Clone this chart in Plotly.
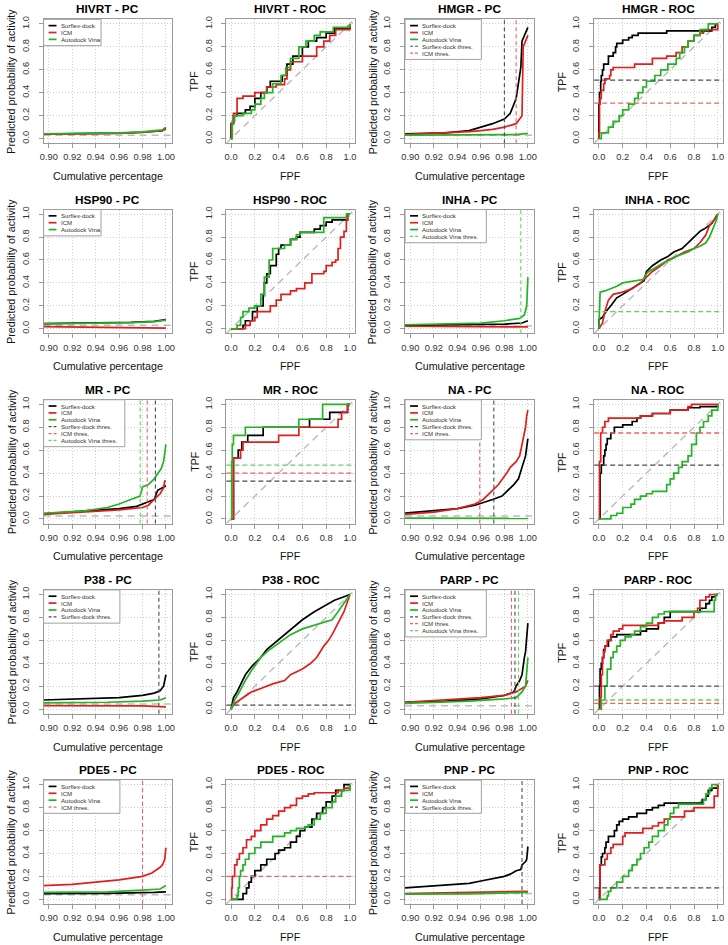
import plotly.graph_objects as go

# ---------------------------------------------------------------- data
TARGETS = ["HIVRT", "HMGR", "HSP90", "INHA", "MR", "NA", "P38", "PARP", "PDE5", "PNP"]
PROGRAMS = ["Surflex-dock", "ICM", "Autodock Vina"]

PC_XTICKS = [0.90, 0.92, 0.94, 0.96, 0.98, 1.00]
PC_XTICK_LABELS = ["0.90", "0.92", "0.94", "0.96", "0.98", "1.00"]
UNIT_TICKS = [0.0, 0.2, 0.4, 0.6, 0.8, 1.0]
UNIT_TICK_LABELS = ["0.0", "0.2", "0.4", "0.6", "0.8", "1.0"]

# ---- PC curves: (cumulative percentage, predicted probability of activity)
HIVRT_PC_SURFLEX = [(0.895, 0.040), (0.93, 0.042), (0.96, 0.047), (0.98, 0.055), (0.99, 0.062), (0.997, 0.070), (1.0, 0.090)]
HIVRT_PC_ICM = [(0.895, 0.038), (0.93, 0.041), (0.96, 0.046), (0.98, 0.053), (0.99, 0.060), (0.997, 0.070), (1.0, 0.085)]
HIVRT_PC_VINA = [(0.895, 0.042), (0.93, 0.045), (0.96, 0.050), (0.98, 0.058), (0.99, 0.065), (0.997, 0.075), (1.0, 0.100)]

HMGR_PC_SURFLEX = [(0.895, 0.04), (0.93, 0.05), (0.95, 0.07), (0.96, 0.10), (0.97, 0.13), (0.98, 0.17), (0.985, 0.22),
                   (0.99, 0.35), (0.992, 0.50), (0.994, 0.62), (0.995, 0.85), (0.998, 0.93), (1.0, 0.97)]
HMGR_PC_ICM = [(0.895, 0.035), (0.93, 0.05), (0.95, 0.06), (0.96, 0.07), (0.97, 0.08), (0.98, 0.10), (0.988, 0.12),
               (0.99, 0.13), (0.993, 0.17), (0.995, 0.20), (0.996, 0.80), (0.998, 0.85), (1.0, 0.90)]
HMGR_PC_VINA = [(0.895, 0.030), (0.95, 0.030), (0.99, 0.035), (1.0, 0.045)]

HSP90_PC_SURFLEX = [(0.895, 0.045), (0.94, 0.050), (0.97, 0.055), (0.99, 0.065), (1.0, 0.080)]
HSP90_PC_ICM = [(0.895, 0.018), (0.95, 0.014), (0.99, 0.010), (1.0, 0.005)]
HSP90_PC_VINA = [(0.895, 0.042), (0.94, 0.047), (0.97, 0.053), (0.99, 0.062), (1.0, 0.075)]

INHA_PC_SURFLEX = [(0.895, 0.030), (0.95, 0.035), (0.98, 0.040), (0.995, 0.050), (1.0, 0.070)]
INHA_PC_ICM = [(0.895, 0.022), (0.95, 0.020), (0.99, 0.018), (1.0, 0.016)]
INHA_PC_VINA = [(0.895, 0.035), (0.96, 0.05), (0.98, 0.07), (0.993, 0.09), (0.997, 0.12), (0.999, 0.20), (1.0, 0.45)]

MR_PC_SURFLEX = [(0.895, 0.045), (0.93, 0.07), (0.96, 0.09), (0.975, 0.11), (0.98, 0.13), (0.99, 0.17),
                 (0.993, 0.25), (0.996, 0.27), (1.0, 0.29)]
MR_PC_ICM = [(0.895, 0.04), (0.93, 0.06), (0.96, 0.08), (0.98, 0.10), (0.985, 0.12), (0.99, 0.17),
             (0.995, 0.22), (0.998, 0.27), (0.999, 0.33), (1.0, 0.33)]
MR_PC_VINA = [(0.895, 0.05), (0.93, 0.07), (0.95, 0.10), (0.96, 0.13), (0.97, 0.17), (0.978, 0.20), (0.98, 0.28),
              (0.985, 0.30), (0.99, 0.35), (0.993, 0.40), (0.996, 0.44), (0.998, 0.50), (1.0, 0.65)]

NA_PC_SURFLEX = [(0.895, 0.05), (0.92, 0.07), (0.94, 0.09), (0.955, 0.12), (0.965, 0.15), (0.97, 0.17), (0.978, 0.20),
                 (0.983, 0.25), (0.988, 0.30), (0.992, 0.35), (0.995, 0.45), (0.998, 0.55), (1.0, 0.70)]
NA_PC_ICM = [(0.895, 0.04), (0.92, 0.06), (0.94, 0.09), (0.955, 0.13), (0.962, 0.17), (0.97, 0.25), (0.975, 0.30),
             (0.982, 0.40), (0.985, 0.45), (0.99, 0.50), (0.993, 0.55), (0.996, 0.70), (0.998, 0.80), (0.999, 0.90), (1.0, 0.95)]
NA_PC_VINA = [(0.895, 0.008), (1.0, 0.005)]

P38_PC_SURFLEX = [(0.895, 0.08), (0.93, 0.09), (0.96, 0.10), (0.98, 0.12), (0.99, 0.14), (0.995, 0.16), (0.998, 0.20), (1.0, 0.30)]
P38_PC_ICM = [(0.895, 0.030), (0.98, 0.028), (1.0, 0.020)]
P38_PC_VINA = [(0.895, 0.055), (0.95, 0.060), (0.98, 0.070), (0.995, 0.080), (1.0, 0.100)]

PARP_PC_SURFLEX = [(0.895, 0.06), (0.93, 0.07), (0.96, 0.09), (0.98, 0.12), (0.988, 0.15), (0.99, 0.20), (0.993, 0.25),
                   (0.995, 0.30), (0.997, 0.45), (0.998, 0.50), (1.0, 0.75)]
PARP_PC_ICM = [(0.895, 0.06), (0.93, 0.08), (0.96, 0.10), (0.98, 0.12), (0.99, 0.15), (0.998, 0.20), (1.0, 0.25)]
PARP_PC_VINA = [(0.895, 0.05), (0.95, 0.07), (0.98, 0.09), (0.99, 0.10), (0.995, 0.15), (0.998, 0.20), (1.0, 0.45)]

PDE5_PC_SURFLEX = [(0.895, 0.050), (0.95, 0.052), (0.99, 0.060), (1.0, 0.065)]
PDE5_PC_ICM = [(0.895, 0.12), (0.92, 0.13), (0.94, 0.15), (0.96, 0.17), (0.98, 0.20), (0.988, 0.23), (0.995, 0.28),
               (0.997, 0.30), (0.999, 0.35), (1.0, 0.45)]
PDE5_PC_VINA = [(0.895, 0.060), (0.95, 0.065), (0.98, 0.080), (0.995, 0.090), (1.0, 0.120)]

PNP_PC_SURFLEX = [(0.895, 0.10), (0.91, 0.11), (0.92, 0.12), (0.935, 0.13), (0.95, 0.14), (0.96, 0.16), (0.97, 0.18),
                  (0.98, 0.20), (0.985, 0.22), (0.99, 0.25), (0.994, 0.26), (0.995, 0.30), (0.998, 0.33), (0.999, 0.35), (1.0, 0.46)]
PNP_PC_ICM = [(0.895, 0.050), (0.95, 0.060), (1.0, 0.070)]
PNP_PC_VINA = [(0.895, 0.045), (0.95, 0.048), (1.0, 0.060)]

# ---- ROC curves: (FPF, TPF)
HIVRT_ROC_SURFLEX = [(0, 0), (0, 0.13), (0.02, 0.20), (0.05, 0.22), (0.12, 0.25), (0.16, 0.28), (0.20, 0.35), (0.25, 0.40),
                     (0.30, 0.45), (0.33, 0.50), (0.43, 0.55), (0.47, 0.65), (0.52, 0.72), (0.60, 0.80), (0.65, 0.85),
                     (0.72, 0.88), (0.80, 0.92), (0.87, 0.96), (1.0, 1.0)]
HIVRT_ROC_ICM = [(0, 0), (0.005, 0.13), (0.02, 0.22), (0.05, 0.35), (0.10, 0.37), (0.20, 0.40), (0.30, 0.45), (0.38, 0.47),
                 (0.45, 0.52), (0.47, 0.60), (0.50, 0.67), (0.60, 0.72), (0.72, 0.80), (0.78, 0.85), (0.83, 0.90),
                 (0.88, 0.95), (1.0, 1.0)]
HIVRT_ROC_VINA = [(0, 0), (0.01, 0.15), (0.03, 0.20), (0.10, 0.22), (0.17, 0.25), (0.20, 0.30), (0.25, 0.35), (0.28, 0.40),
                  (0.35, 0.48), (0.42, 0.55), (0.46, 0.62), (0.50, 0.70), (0.57, 0.80), (0.63, 0.85), (0.70, 0.90),
                  (0.75, 0.93), (0.86, 0.97), (0.98, 0.98), (1.0, 1.0)]

HMGR_ROC_SURFLEX = [(0, 0), (0, 0.30), (0.005, 0.40), (0.015, 0.50), (0.02, 0.55), (0.03, 0.60), (0.04, 0.65), (0.08, 0.72),
                    (0.12, 0.75), (0.14, 0.80), (0.15, 0.83), (0.20, 0.86), (0.25, 0.88), (0.28, 0.90), (0.33, 0.92),
                    (0.57, 0.94), (0.95, 0.97), (0.98, 1.0), (1.0, 1.0)]
HMGR_ROC_ICM = [(0, 0), (0, 0.05), (0.005, 0.30), (0.01, 0.35), (0.02, 0.42), (0.04, 0.48), (0.05, 0.52), (0.09, 0.55),
                (0.10, 0.60), (0.12, 0.62), (0.30, 0.65), (0.45, 0.70), (0.57, 0.72), (0.65, 0.75), (0.70, 0.80),
                (0.75, 0.85), (0.80, 0.90), (0.85, 0.92), (0.88, 0.95), (1.0, 1.0)]
HMGR_ROC_VINA = [(0, 0), (0.02, 0.05), (0.08, 0.10), (0.12, 0.15), (0.17, 0.20), (0.20, 0.25), (0.25, 0.30), (0.30, 0.35),
                 (0.33, 0.40), (0.37, 0.45), (0.40, 0.50), (0.47, 0.55), (0.52, 0.60), (0.58, 0.65), (0.65, 0.70),
                 (0.68, 0.75), (0.72, 0.80), (0.75, 0.85), (0.80, 0.90), (0.85, 0.95), (0.92, 1.0), (1.0, 1.0)]

HSP90_ROC_SURFLEX = [(0, 0), (0.10, 0.03), (0.12, 0.07), (0.18, 0.15), (0.22, 0.20), (0.27, 0.30), (0.28, 0.40),
                     (0.30, 0.48), (0.33, 0.55), (0.38, 0.65), (0.40, 0.70), (0.42, 0.73), (0.50, 0.78), (0.55, 0.80),
                     (0.58, 0.84), (0.70, 0.87), (0.75, 0.90), (0.80, 0.93), (0.85, 0.95), (0.98, 1.0), (1.0, 1.0)]
HSP90_ROC_ICM = [(0, 0), (0.12, 0.03), (0.16, 0.07), (0.20, 0.10), (0.22, 0.15), (0.33, 0.20), (0.38, 0.25), (0.42, 0.30),
                 (0.50, 0.33), (0.55, 0.35), (0.62, 0.40), (0.68, 0.48), (0.78, 0.50), (0.80, 0.55), (0.85, 0.58),
                 (0.88, 0.60), (0.90, 0.70), (0.92, 0.80), (0.95, 0.85), (0.97, 0.95), (0.98, 1.0), (1.0, 1.0)]
HSP90_ROC_VINA = [(0, 0), (0.05, 0.03), (0.08, 0.10), (0.10, 0.15), (0.15, 0.18), (0.20, 0.20), (0.25, 0.30), (0.28, 0.45),
                  (0.32, 0.60), (0.35, 0.70), (0.45, 0.73), (0.50, 0.78), (0.55, 0.82), (0.58, 0.84), (0.78, 0.97),
                  (0.97, 1.0), (1.0, 1.0)]

INHA_ROC_SURFLEX = [(0, 0), (0, 0.08), (0.03, 0.10), (0.06, 0.15), (0.10, 0.20), (0.15, 0.27), (0.20, 0.30), (0.27, 0.35),
                    (0.35, 0.40), (0.38, 0.42), (0.40, 0.50), (0.45, 0.55), (0.52, 0.60), (0.58, 0.63), (0.63, 0.67),
                    (0.70, 0.70), (0.75, 0.75), (0.80, 0.80), (0.85, 0.85), (0.90, 0.88), (0.95, 0.92), (0.97, 0.95), (1.0, 1.0)]
INHA_ROC_ICM = [(0, 0), (0.03, 0.05), (0.05, 0.15), (0.08, 0.25), (0.12, 0.30), (0.20, 0.32), (0.28, 0.35), (0.35, 0.40),
                (0.40, 0.45), (0.45, 0.50), (0.52, 0.55), (0.58, 0.60), (0.65, 0.63), (0.72, 0.67), (0.80, 0.70),
                (0.85, 0.75), (0.90, 0.82), (0.93, 0.90), (0.97, 0.95), (1.0, 1.0)]
INHA_ROC_VINA = [(0, 0), (0.005, 0.25), (0.01, 0.32), (0.05, 0.33), (0.10, 0.35), (0.15, 0.37), (0.20, 0.40), (0.30, 0.42),
                 (0.37, 0.43), (0.40, 0.48), (0.42, 0.50), (0.47, 0.53), (0.50, 0.55), (0.55, 0.58), (0.60, 0.60),
                 (0.65, 0.63), (0.70, 0.65), (0.75, 0.67), (0.80, 0.70), (0.85, 0.72), (0.90, 0.75), (0.93, 0.80),
                 (0.95, 0.85), (0.97, 0.90), (0.99, 0.95), (1.0, 1.0)]

MR_ROC_SURFLEX = [(0, 0), (0.02, 0.53), (0.06, 0.60), (0.09, 0.67), (0.14, 0.73), (0.27, 0.80), (0.66, 0.87),
                  (0.83, 0.93), (0.98, 1.0), (1.0, 1.0)]
MR_ROC_ICM = [(0, 0), (0.02, 0.53), (0.08, 0.60), (0.10, 0.67), (0.40, 0.73), (0.57, 0.80), (0.90, 0.87),
              (0.93, 0.93), (0.98, 1.0), (1.0, 1.0)]
MR_ROC_VINA = [(0, 0), (0.005, 0.50), (0.01, 0.65), (0.02, 0.73), (0.12, 0.80), (0.57, 0.87), (0.77, 1.0), (1.0, 1.0)]

NA_ROC_SURFLEX = [(0, 0), (0.01, 0.40), (0.02, 0.47), (0.04, 0.55), (0.05, 0.60), (0.06, 0.65), (0.07, 0.70), (0.10, 0.75),
                  (0.13, 0.80), (0.20, 0.82), (0.28, 0.85), (0.32, 0.88), (0.35, 0.90), (0.45, 0.92), (0.60, 0.95),
                  (0.75, 0.97), (0.85, 0.98), (1.0, 1.0)]
NA_ROC_ICM = [(0, 0), (0.005, 0.50), (0.015, 0.75), (0.03, 0.80), (0.05, 0.85), (0.08, 0.88), (0.35, 0.90), (0.45, 0.92),
              (0.60, 0.95), (0.75, 0.98), (0.78, 1.0), (1.0, 1.0)]
NA_ROC_VINA = [(0, 0), (0.10, 0.03), (0.15, 0.05), (0.20, 0.10), (0.27, 0.13), (0.30, 0.17), (0.35, 0.20), (0.40, 0.22),
               (0.45, 0.24), (0.57, 0.30), (0.60, 0.35), (0.63, 0.40), (0.67, 0.45), (0.70, 0.50), (0.75, 0.55),
               (0.78, 0.65), (0.82, 0.75), (0.85, 0.80), (0.88, 0.85), (0.92, 0.90), (0.95, 0.95), (1.0, 1.0)]

P38_ROC_SURFLEX = [(0, 0), (0.02, 0.10), (0.05, 0.15), (0.08, 0.22), (0.12, 0.30), (0.18, 0.38), (0.25, 0.45), (0.30, 0.52),
                   (0.37, 0.58), (0.45, 0.65), (0.53, 0.72), (0.60, 0.78), (0.70, 0.85), (0.78, 0.90), (0.87, 0.95),
                   (0.95, 0.98), (1.0, 1.0)]
P38_ROC_ICM = [(0, 0), (0.03, 0.05), (0.10, 0.10), (0.17, 0.15), (0.25, 0.18), (0.30, 0.20), (0.35, 0.22), (0.45, 0.25),
               (0.50, 0.30), (0.60, 0.35), (0.67, 0.40), (0.72, 0.45), (0.75, 0.50), (0.78, 0.55), (0.82, 0.60),
               (0.85, 0.65), (0.90, 0.75), (0.95, 0.85), (1.0, 1.0)]
P38_ROC_VINA = [(0, 0), (0.03, 0.08), (0.07, 0.15), (0.12, 0.25), (0.18, 0.35), (0.25, 0.45), (0.30, 0.50), (0.37, 0.55),
                (0.43, 0.60), (0.50, 0.65), (0.60, 0.70), (0.70, 0.73), (0.77, 0.75), (0.85, 0.78), (0.90, 0.85),
                (0.95, 0.92), (1.0, 1.0)]

PARP_ROC_SURFLEX = [(0, 0), (0.005, 0.20), (0.01, 0.35), (0.02, 0.40), (0.03, 0.45), (0.04, 0.52), (0.05, 0.55), (0.08, 0.60),
                    (0.10, 0.63), (0.15, 0.65), (0.35, 0.68), (0.40, 0.70), (0.50, 0.75), (0.55, 0.80), (0.60, 0.85),
                    (0.85, 0.88), (0.90, 0.92), (0.93, 0.95), (0.95, 0.98), (0.98, 1.0), (1.0, 1.0)]
PARP_ROC_ICM = [(0, 0), (0.01, 0.10), (0.02, 0.30), (0.03, 0.45), (0.04, 0.50), (0.05, 0.55), (0.07, 0.60), (0.10, 0.65),
                (0.12, 0.68), (0.17, 0.70), (0.20, 0.73), (0.50, 0.75), (0.55, 0.77), (0.70, 0.80), (0.80, 0.85),
                (0.83, 0.88), (0.85, 0.95), (0.90, 0.98), (0.93, 1.0), (1.0, 1.0)]
PARP_ROC_VINA = [(0, 0), (0.02, 0.08), (0.05, 0.20), (0.07, 0.35), (0.10, 0.45), (0.12, 0.50), (0.15, 0.55), (0.18, 0.60),
                 (0.22, 0.63), (0.27, 0.65), (0.30, 0.68), (0.35, 0.72), (0.40, 0.75), (0.45, 0.80), (0.50, 0.83),
                 (0.55, 0.85), (0.97, 0.95), (0.98, 1.0), (1.0, 1.0)]

PDE5_ROC_SURFLEX = [(0, 0), (0.10, 0.05), (0.13, 0.10), (0.15, 0.15), (0.17, 0.20), (0.20, 0.25), (0.25, 0.30), (0.30, 0.35),
                    (0.37, 0.40), (0.40, 0.43), (0.45, 0.45), (0.50, 0.50), (0.55, 0.55), (0.58, 0.60), (0.62, 0.63),
                    (0.68, 0.70), (0.72, 0.75), (0.77, 0.80), (0.80, 0.85), (0.85, 0.90), (0.88, 0.95), (0.95, 1.0), (1.0, 1.0)]
PDE5_ROC_ICM = [(0, 0), (0.005, 0.10), (0.01, 0.20), (0.03, 0.30), (0.05, 0.35), (0.07, 0.40), (0.10, 0.45), (0.13, 0.52),
                (0.17, 0.55), (0.20, 0.60), (0.25, 0.65), (0.30, 0.70), (0.35, 0.73), (0.40, 0.77), (0.45, 0.80),
                (0.50, 0.82), (0.55, 0.88), (0.60, 0.90), (0.65, 0.92), (0.70, 0.93), (0.90, 0.95), (0.95, 0.97), (1.0, 1.0)]
PDE5_ROC_VINA = [(0, 0), (0.05, 0.03), (0.06, 0.10), (0.07, 0.20), (0.08, 0.25), (0.10, 0.30), (0.12, 0.35), (0.15, 0.40),
                 (0.20, 0.45), (0.25, 0.50), (0.35, 0.55), (0.45, 0.58), (0.50, 0.60), (0.55, 0.62), (0.62, 0.63),
                 (0.65, 0.65), (0.70, 0.70), (0.75, 0.75), (0.80, 0.80), (0.85, 0.85), (0.88, 0.90), (0.93, 0.95), (1.0, 1.0)]

PNP_ROC_SURFLEX = [(0, 0), (0.005, 0.10), (0.01, 0.30), (0.02, 0.37), (0.03, 0.40), (0.05, 0.45), (0.06, 0.50), (0.08, 0.55),
                   (0.13, 0.60), (0.15, 0.65), (0.17, 0.68), (0.20, 0.70), (0.25, 0.72), (0.32, 0.75), (0.40, 0.78),
                   (0.45, 0.80), (0.50, 0.82), (0.55, 0.84), (0.87, 0.87), (0.90, 0.90), (0.92, 0.95), (0.95, 0.97), (1.0, 1.0)]
PNP_ROC_ICM = [(0, 0), (0.01, 0.30), (0.05, 0.35), (0.07, 0.40), (0.10, 0.45), (0.12, 0.48), (0.20, 0.55), (0.22, 0.58),
               (0.37, 0.62), (0.45, 0.64), (0.50, 0.67), (0.55, 0.70), (0.60, 0.72), (0.72, 0.77), (0.80, 0.80),
               (0.97, 0.90), (1.0, 0.95), (1.0, 1.0)]
PNP_ROC_VINA = [(0, 0), (0.07, 0.03), (0.08, 0.07), (0.10, 0.10), (0.15, 0.15), (0.20, 0.20), (0.25, 0.25), (0.28, 0.30),
                (0.32, 0.35), (0.35, 0.40), (0.38, 0.45), (0.42, 0.50), (0.45, 0.55), (0.50, 0.60), (0.55, 0.65),
                (0.58, 0.70), (0.60, 0.75), (0.63, 0.80), (0.67, 0.83), (0.88, 0.87), (0.90, 0.92), (0.93, 0.97),
                (0.95, 1.0), (1.0, 1.0)]

# ---- thresholds and baselines
PC_THRESHOLDS = {
    "HMGR": {"Surflex-dock": 0.980, "ICM": 0.990},
    "INHA": {"Autodock Vina": 0.994},
    "MR": {"Surflex-dock": 0.991, "ICM": 0.984, "Autodock Vina": 0.978},
    "NA": {"Surflex-dock": 0.971, "ICM": 0.959},
    "P38": {"Surflex-dock": 0.994},
    "PARP": {"Surflex-dock": 0.989, "ICM": 0.986, "Autodock Vina": 0.992},
    "PDE5": {"ICM": 0.980},
    "PNP": {"Surflex-dock": 0.995},
}
ROC_THRESHOLDS = {
    "HMGR": {"Surflex-dock": 0.51, "ICM": 0.31},
    "INHA": {"Autodock Vina": 0.15},
    "MR": {"Surflex-dock": 0.33, "ICM": 0.40, "Autodock Vina": 0.47},
    "NA": {"Surflex-dock": 0.47, "ICM": 0.75},
    "P38": {"Surflex-dock": 0.035},
    "PARP": {"Surflex-dock": 0.20, "ICM": 0.05, "Autodock Vina": 0.08},
    "PDE5": {"ICM": 0.20},
    "PNP": {"Surflex-dock": 0.10},
}
PC_BASELINE = {"HIVRT": 0.030, "HMGR": 0.030, "HSP90": 0.030, "INHA": 0.025, "MR": 0.025,
               "NA": 0.025, "P38": 0.045, "PARP": 0.030, "PDE5": 0.040, "PNP": 0.050}

PC_CURVES = {
    "HIVRT": [HIVRT_PC_SURFLEX, HIVRT_PC_ICM, HIVRT_PC_VINA],
    "HMGR": [HMGR_PC_SURFLEX, HMGR_PC_ICM, HMGR_PC_VINA],
    "HSP90": [HSP90_PC_SURFLEX, HSP90_PC_ICM, HSP90_PC_VINA],
    "INHA": [INHA_PC_SURFLEX, INHA_PC_ICM, INHA_PC_VINA],
    "MR": [MR_PC_SURFLEX, MR_PC_ICM, MR_PC_VINA],
    "NA": [NA_PC_SURFLEX, NA_PC_ICM, NA_PC_VINA],
    "P38": [P38_PC_SURFLEX, P38_PC_ICM, P38_PC_VINA],
    "PARP": [PARP_PC_SURFLEX, PARP_PC_ICM, PARP_PC_VINA],
    "PDE5": [PDE5_PC_SURFLEX, PDE5_PC_ICM, PDE5_PC_VINA],
    "PNP": [PNP_PC_SURFLEX, PNP_PC_ICM, PNP_PC_VINA],
}
ROC_CURVES = {
    "HIVRT": [HIVRT_ROC_SURFLEX, HIVRT_ROC_ICM, HIVRT_ROC_VINA],
    "HMGR": [HMGR_ROC_SURFLEX, HMGR_ROC_ICM, HMGR_ROC_VINA],
    "HSP90": [HSP90_ROC_SURFLEX, HSP90_ROC_ICM, HSP90_ROC_VINA],
    "INHA": [INHA_ROC_SURFLEX, INHA_ROC_ICM, INHA_ROC_VINA],
    "MR": [MR_ROC_SURFLEX, MR_ROC_ICM, MR_ROC_VINA],
    "NA": [NA_ROC_SURFLEX, NA_ROC_ICM, NA_ROC_VINA],
    "P38": [P38_ROC_SURFLEX, P38_ROC_ICM, P38_ROC_VINA],
    "PARP": [PARP_ROC_SURFLEX, PARP_ROC_ICM, PARP_ROC_VINA],
    "PDE5": [PDE5_ROC_SURFLEX, PDE5_ROC_ICM, PDE5_ROC_VINA],
    "PNP": [PNP_ROC_SURFLEX, PNP_ROC_ICM, PNP_ROC_VINA],
}
ROC_SMOOTH = {"INHA", "P38"}

# ---------------------------------------------------------------- style
W, H = 728, 945
FONT = "Liberation Sans, Arial, Helvetica, sans-serif"
COLORS = {"Surflex-dock": "#000000", "ICM": "#E01E1E", "Autodock Vina": "#22B422"}
THRES_COLORS = {"Surflex-dock": "#4d4d4d", "ICM": "#F06262", "Autodock Vina": "#62D062"}
FRAME_COLOR = "#9a9a9a"
GRID_COLOR = "#cccccc"
REF_COLOR = "#bdbdbd"
COL_FRAMES = [(40.0, 170.0), (224.5, 354.1), (405.0, 535.5), (595.9, 725.5)]
ROW_TOP0, ROW_STEP, FRAME_H = 16.4, 190.8, 124.2
PC_RANGE = [0.8955, 1.0055]
UNIT_RANGE = [-0.04, 1.04]
LEG_SPACING, LEG_FIRST, LEG_PAD, LEG_FONT = 6.9, 6.3, 6.3, 6.1

fig = go.Figure()
layout = {}
shapes = []
annotations = []


def px_x(v):
    return v / W


def px_y(v):
    return 1 - v / H


for r in range(5):
    top = ROW_TOP0 + r * ROW_STEP
    bottom = top + FRAME_H
    for half in range(2):
        tgt = TARGETS[2 * r + half]
        for kind in range(2):
            c = half * 2 + kind
            n = r * 4 + c + 1
            left, right = COL_FRAMES[c]
            sfx = "" if n == 1 else str(n)
            xr, yr = "x" + sfx, "y" + sfx
            is_pc = kind == 0
            common = dict(showline=True, mirror=True, linecolor=FRAME_COLOR, linewidth=1,
                          ticks="outside", ticklen=4, tickcolor=FRAME_COLOR, tickwidth=1,
                          showgrid=True, gridcolor=GRID_COLOR, griddash="1px,2px", gridwidth=1,
                          zeroline=False, tickfont=dict(size=9.3, color="#333333", family=FONT),
                          tickmode="array", fixedrange=True)
            layout["xaxis" + sfx] = dict(
                common, domain=[px_x(left), px_x(right)], anchor=yr,
                range=PC_RANGE if is_pc else UNIT_RANGE,
                tickvals=PC_XTICKS if is_pc else UNIT_TICKS,
                ticktext=PC_XTICK_LABELS if is_pc else UNIT_TICK_LABELS,
                ticklabelstandoff=1)
            layout["yaxis" + sfx] = dict(
                common, domain=[px_y(bottom), px_y(top)], anchor=xr, range=UNIT_RANGE,
                tickvals=UNIT_TICKS, ticktext=UNIT_TICK_LABELS, tickangle=-90,
                ticklabelstandoff=6)

            # reference lines (under the curves)
            if is_pc:
                b = PC_BASELINE[tgt]
                fig.add_trace(go.Scatter(x=PC_RANGE, y=[b, b], mode="lines",
                                         line=dict(color=REF_COLOR, width=1.5, dash="7px,5px"),
                                         xaxis=xr, yaxis=yr, showlegend=False, hoverinfo="skip"))
            else:
                fig.add_trace(go.Scatter(x=UNIT_RANGE, y=UNIT_RANGE, mode="lines",
                                         line=dict(color=REF_COLOR, width=1.5, dash="7px,5px"),
                                         xaxis=xr, yaxis=yr, showlegend=False, hoverinfo="skip"))

            curves = PC_CURVES[tgt] if is_pc else ROC_CURVES[tgt]
            shape = "linear" if (is_pc or tgt in ROC_SMOOTH) else "hv"
            for prog, pts in zip(PROGRAMS, curves):
                fig.add_trace(go.Scatter(
                    x=[p[0] for p in pts], y=[p[1] for p in pts], mode="lines",
                    line=dict(color=COLORS[prog], width=1.7, shape=shape),
                    xaxis=xr, yaxis=yr, showlegend=False, hoverinfo="skip", name=prog))

            # thresholds
            thr = (PC_THRESHOLDS if is_pc else ROC_THRESHOLDS).get(tgt, {})
            for prog in PROGRAMS:
                if prog not in thr:
                    continue
                v = thr[prog]
                if is_pc:
                    shapes.append(dict(type="line", xref=xr, yref="paper", x0=v, x1=v,
                                       y0=px_y(bottom), y1=px_y(top), layer="above",
                                       line=dict(color=THRES_COLORS[prog], width=1.1, dash="4px,3px")))
                else:
                    shapes.append(dict(type="line", xref="paper", yref=yr, x0=px_x(left), x1=px_x(right),
                                       y0=v, y1=v, layer="above",
                                       line=dict(color=THRES_COLORS[prog], width=1.3, dash="5px,3px")))

            # title and axis labels
            cx = (left + right) / 2
            annotations.append(dict(text="<b>%s - %s</b>" % (tgt, "PC" if is_pc else "ROC"),
                                    x=px_x(cx), y=px_y(top - 10), xref="paper", yref="paper",
                                    showarrow=False, xanchor="center", yanchor="middle",
                                    font=dict(size=11.8, family=FONT, color="#000000")))
            annotations.append(dict(text="Cumulative percentage" if is_pc else "FPF",
                                    x=px_x(cx), y=px_y(bottom + 33), xref="paper", yref="paper",
                                    showarrow=False, xanchor="center", yanchor="middle",
                                    font=dict(size=10.7, family=FONT, color="#111111")))
            annotations.append(dict(text="Predicted probability of activity" if is_pc else "TPF",
                                    x=px_x(left - 32.5), y=px_y((top + bottom) / 2), xref="paper", yref="paper",
                                    showarrow=False, xanchor="center", yanchor="middle", textangle=-90,
                                    font=dict(size=10.7, family=FONT, color="#111111")))

            # legend box (PC panels)
            if is_pc:
                entries = [(p, COLORS[p], "solid", 1.7) for p in PROGRAMS]
                entries += [(p + " thres.", THRES_COLORS[p], "3px,2px", 1.2) for p in PROGRAMS if p in thr]
                has_thr = len(entries) > 3
                box_w = 58 if not has_thr else (82 if "Autodock Vina" in thr else 77)
                box_h = LEG_FIRST + LEG_SPACING * (len(entries) - 1) + LEG_PAD
                shapes.append(dict(type="rect", xref="paper", yref="paper",
                                   x0=px_x(left), x1=px_x(left + box_w), y0=px_y(top), y1=px_y(top + box_h),
                                   fillcolor="#ffffff", line=dict(color="#a0a0a0", width=1), layer="above"))
                for i, (lab, col, dash, lw) in enumerate(entries):
                    yy = top + LEG_FIRST + i * LEG_SPACING
                    shapes.append(dict(type="line", xref="paper", yref="paper",
                                       x0=px_x(left + 5), x1=px_x(left + 13), y0=px_y(yy), y1=px_y(yy),
                                       line=dict(color=col, width=lw, dash=dash), layer="above"))
                    annotations.append(dict(text=lab, x=px_x(left + 16.5), y=px_y(yy), xref="paper", yref="paper",
                                            showarrow=False, xanchor="left", yanchor="middle", borderpad=0,
                                            font=dict(size=LEG_FONT, family=FONT, color="#333333")))

layout.update(dict(width=W, height=H, margin=dict(l=0, r=0, t=0, b=0),
                   paper_bgcolor="#ffffff", plot_bgcolor="#ffffff",
                   showlegend=False, shapes=shapes, annotations=annotations,
                   font=dict(family=FONT)))
fig.update_layout(**layout)
fig.write_html("out.html", config={"displayModeBar": False},
               post_script="document.body.style.margin='0px';")
